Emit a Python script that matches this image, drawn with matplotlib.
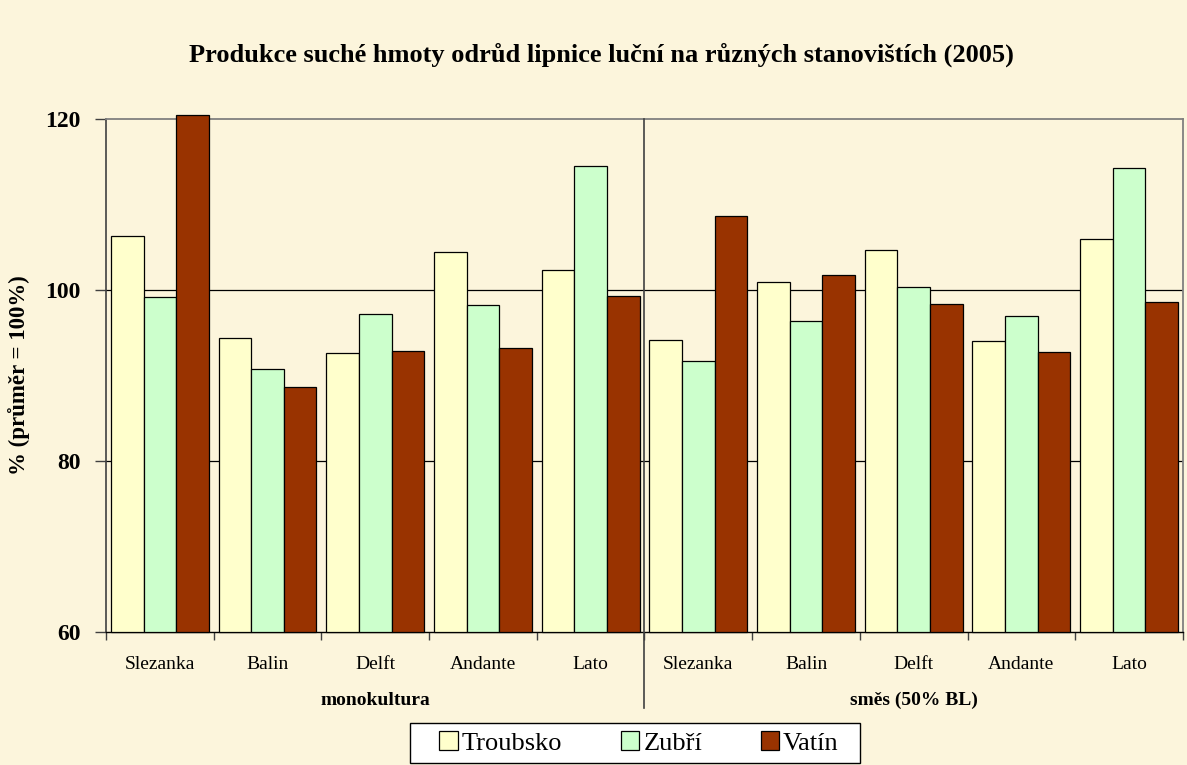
import matplotlib
matplotlib.use("Agg")
import matplotlib.pyplot as plt
import matplotlib.transforms as mtransforms
from matplotlib.patches import Rectangle
import numpy as np

categories = ["Slezanka", "Balin", "Delft", "Andante", "Lato",
              "Slezanka", "Balin", "Delft", "Andante", "Lato"]
groups = ["monokultura", "směs (50% BL)"]
series_names = ["Troubsko", "Zubří", "Vatín"]
troubsko = [106.3, 94.4, 92.6, 104.4, 102.3, 94.2, 100.9, 104.7, 94.0, 106.0]
zubri = [99.2, 90.8, 97.2, 98.2, 114.5, 91.7, 96.4, 100.4, 97.0, 114.3]
vatin = [120.5, 88.7, 92.9, 93.2, 99.3, 108.6, 101.7, 98.4, 92.7, 98.6]
yticks = [60, 80, 100, 120]

colors = ["#FFFFCC", "#CCFFCC", "#993300"]
bg = "#FCF5DC"

plt.rcParams['font.family'] = ['Liberation Serif', 'DejaVu Serif']

fig = plt.figure(figsize=(11.87, 7.65), dpi=100, facecolor=bg)
ax = fig.add_axes([0.0893, 0.1739, 0.9073, 0.6706])
ax.set_facecolor(bg)

x = np.arange(len(categories))
w = 0.303
for i, (vals, col, name) in enumerate(zip([troubsko, zubri, vatin], colors, series_names)):
    ax.bar(x + (i - 1) * w, np.array(vals) - 60, bottom=60, width=w, color=col,
           edgecolor="black", linewidth=0.9, label=name, clip_on=False, zorder=3)

ax.set_xlim(-0.5, len(categories) - 0.5)
ax.set_ylim(60, 120)

# gridlines
for yv in [80, 100]:
    ax.axhline(yv, color="black", linewidth=0.9, zorder=1)

# spines
for s in ["top", "right"]:
    ax.spines[s].set_color("#808080")
    ax.spines[s].set_linewidth(1.3)
ax.spines["left"].set_color("#404040")
ax.spines["left"].set_linewidth(1.2)
ax.spines["bottom"].set_color("black")
ax.spines["bottom"].set_linewidth(1.0)

ax.set_yticks(yticks)
ax.set_yticklabels([str(v) for v in yticks], fontsize=17, fontweight="bold")
ax.tick_params(axis="y", length=8, width=1, color="#404040", pad=10)

ax.set_xticks(x)
ax.set_xticklabels(categories, fontsize=14)
ax.tick_params(axis="x", which="major", length=0, pad=17)
ax.set_xticks(np.arange(-0.5, len(categories), 1.0), minor=True)
ax.tick_params(axis="x", which="minor", length=6, width=1, color="#404040")

# group divider and labels
trans = mtransforms.blended_transform_factory(ax.transData, ax.transAxes)
ax.plot([4.5, 4.5], [1.0, -0.148], transform=trans, color="#404040",
        linewidth=1.2, clip_on=False, zorder=4)
ax.text(2, -0.133, groups[0], transform=trans, ha="center", va="center",
        fontsize=14, fontweight="bold")
ax.text(7, -0.133, groups[1], transform=trans, ha="center", va="center",
        fontsize=14, fontweight="bold")

ax.set_ylabel("% (průměr = 100%)", fontsize=16.5, fontweight="bold")
ax.yaxis.set_label_coords(-0.071, 0.5)

fig.text(0.507, 0.928, "Produkce suché hmoty odrůd lipnice luční na různých stanovištích (2005)",
         ha="center", va="center", fontsize=19, fontweight="bold")

# legend box
W, H = 1187.0, 765.0
fig.patches.append(Rectangle((410 / W, 2 / H), 450 / W, 40 / H, transform=fig.transFigure,
                             facecolor="white", edgecolor="black", linewidth=1.0, zorder=1))
leg = fig.legend(loc="center", bbox_to_anchor=(639 / W, 22 / H), ncol=3,
                 prop={"family": "Liberation Serif", "size": 19},
                 frameon=False, handlelength=0.7,
                 handleheight=0.7, handletextpad=0.15, columnspacing=2.22,
                 borderpad=0.2, borderaxespad=0)
for p in leg.get_patches():
    p.set_linewidth(0.9)

fig.savefig("out.png", dpi=100, facecolor=bg)
